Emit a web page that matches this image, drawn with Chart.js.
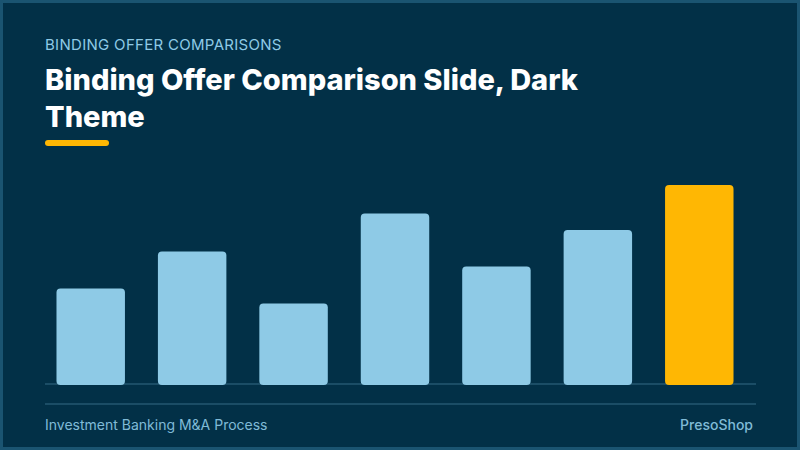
<!DOCTYPE html>
<html>
<head>
<meta charset="utf-8">
<script src="https://cdn.jsdelivr.net/npm/chart.js@4"></script>
<style>
  html, body { margin: 0; padding: 0; }
  body { width: 800px; height: 450px; background: #023047; overflow: hidden; position: relative; font-family: "Inter", "Noto Sans", sans-serif; }
  .frame { position: absolute; left: 0; top: 0; width: 800px; height: 450px; box-sizing: border-box; border: 3px solid #1a5471; }
  .kicker { position: absolute; left: 45px; top: 35px; font-size: 15px; line-height: 20px; color: #8ecae6; letter-spacing: 0.3px; white-space: nowrap; }
  .title { position: absolute; left: 45px; top: 61px; font-size: 29px; line-height: 37px; font-weight: 800; color: #ffffff; width: 600px; }
  .rule { position: absolute; left: 45px; top: 140px; width: 64px; height: 6px; border-radius: 3px; background: #ffb703; }
  .line { position: absolute; left: 45px; width: 711px; height: 2px; background: #1b4d66; }
  .chartbox { position: absolute; left: 40px; top: 185px; width: 710px; height: 200px; }
  .foot { position: absolute; top: 415px; font-size: 14px; line-height: 19px; color: #8ecae6; opacity: 0.9; white-space: nowrap; }
</style>
</head>
<body>
<div class="frame"></div>
<div class="kicker">BINDING OFFER COMPARISONS</div>
<div class="title">Binding Offer Comparison Slide, Dark<br>Theme</div>
<div class="rule"></div>
<div class="line" style="top:383px"></div>
<div class="chartbox"><canvas id="offers"></canvas></div>
<div class="line" style="top:403px"></div>
<div class="foot" style="left:45px">Investment Banking M&amp;A Process</div>
<div class="foot" style="right:47px; font-weight:500">PresoShop</div>
<script>
var bidders = ["Bidder A", "Bidder B", "Bidder C", "Bidder D", "Bidder E", "Bidder F", "Bidder G"];
var offerValues = [48.3, 66.7, 40.8, 85.8, 59.2, 77.5, 100];
var barColors = ["#8ecae6", "#8ecae6", "#8ecae6", "#8ecae6", "#8ecae6", "#8ecae6", "#ffb703"];

var ctx_offers = document.getElementById("offers").getContext('2d');
var offersChart = new Chart(ctx_offers, {
  type: 'bar',
  data: {
    labels: bidders,
    datasets: [{
      label: 'Binding offer',
      data: offerValues,
      backgroundColor: barColors,
      borderRadius: 4,
      borderSkipped: false,
      barPercentage: 0.9,
      categoryPercentage: 0.75
    }]
  },
  options: {
    responsive: true,
    maintainAspectRatio: false,
    animation: false,
    layout: { padding: 0 },
    plugins: { legend: { display: false }, tooltip: { enabled: false } },
    scales: {
      x: { display: false },
      y: { display: false, min: 0, max: 100 }
    }
  }
});
</script>
</body>
</html>
